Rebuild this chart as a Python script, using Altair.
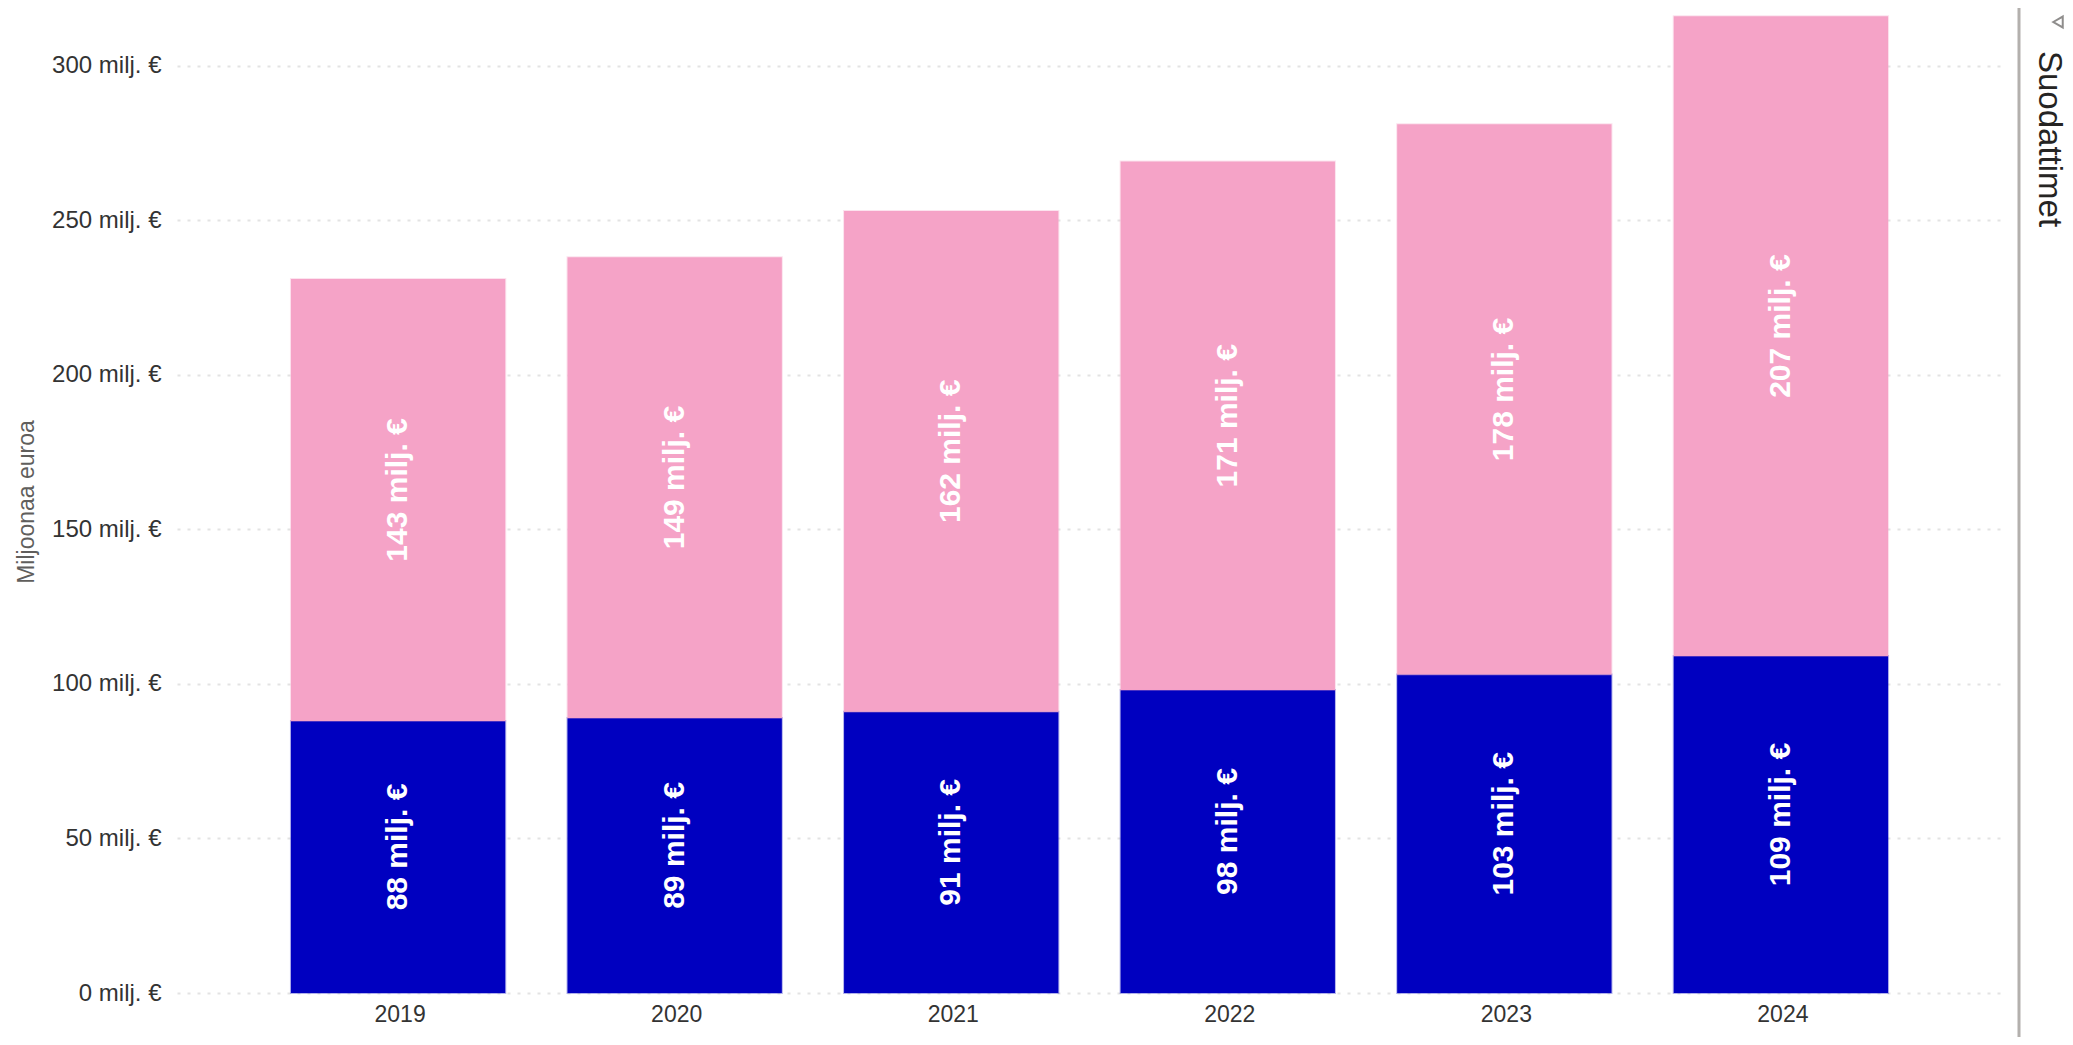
import altair as alt
import pandas as pd

years = ["2019", "2020", "2021", "2022", "2023", "2024"]
lower = [88, 89, 91, 98, 103, 109]
upper = [143, 149, 162, 171, 178, 207]
tick_values = [0, 50, 100, 150, 200, 250, 300]
BLUE = "#0000C0"
PINK = "#F5A3C7"
FONT = "Liberation Sans"

rows = []
for y, a, b in zip(years, lower, upper):
    rows.append(dict(year=y, series="a", start=0, end=a, mid=a / 2, label=f"{a} milj. €"))
    rows.append(dict(year=y, series="b", start=a, end=a + b, mid=a + b / 2, label=f"{b} milj. €"))
df = pd.DataFrame(rows)

x = alt.X("year:N", title=None, sort=years,
          scale=alt.Scale(paddingInner=0.225, paddingOuter=0.412, round=False),
          axis=alt.Axis(labelAngle=0, labelFont=FONT, labelFontSize=23, labelColor="#333333",
                        labelPadding=10, labelOffset=2, ticks=False, domain=False, grid=False))
yscale = alt.Scale(domain=[0, 318], nice=False)
colors = alt.Scale(domain=["a", "b"], range=[BLUE, PINK])

bars = alt.Chart(df).mark_bar(strokeWidth=2, strokeOpacity=0.3).encode(
    x=x,
    y=alt.Y("start:Q", scale=yscale, title="Miljoonaa euroa",
            axis=alt.Axis(values=tick_values, labelExpr="datum.value + ' milj. €'",
                          labelFont=FONT, labelFontSize=24, labelColor="#333333", labelPadding=16,
                          ticks=False, domain=False, grid=True, gridColor="#E3E3E3", gridWidth=2,
                          gridDash=[3, 7], titleFont=FONT, titleFontSize=23,
                          titleFontWeight="normal", titleColor="#605E5C", titlePadding=13)),
    y2="end:Q",
    color=alt.Color("series:N", legend=None, scale=colors),
    stroke=alt.Color("series:N", legend=None, scale=colors),
)

labels = alt.Chart(df).mark_text(
    angle=270, font=FONT, fontSize=30, fontWeight="bold", color="white", dx=10, baseline="middle"
).encode(x=alt.X("year:N", sort=years), y=alt.Y("mid:Q", scale=yscale), text="label:N")

divider = alt.Chart(pd.DataFrame({"k": [0]})).mark_rule(color="#B3B0AD", strokeWidth=3).encode(
    x=alt.value(1842), y=alt.value(-2), y2=alt.value(1030))
side = alt.Chart(pd.DataFrame({"t": ["Suodattimet"]})).mark_text(
    angle=90, font=FONT, fontSize=33, color="#252423", baseline="middle", align="left"
).encode(x=alt.value(1872), y=alt.value(41), text="t:N")
icon = alt.Chart(pd.DataFrame({"k": [0]})).mark_point(
    shape="triangle-left", size=120, color="#605E5C", strokeWidth=2
).encode(x=alt.value(1881), y=alt.value(12))

chart = (bars + labels + divider + side + icon).properties(
    width=1825, height=983,
    autosize=alt.AutoSizeParams(type="none"),
    padding={"left": 169, "right": 63, "top": 2, "bottom": 44},
    background="white",
).configure_view(stroke=None)

chart.save("out.html", embed_options={"renderer": "svg", "actions": False})
